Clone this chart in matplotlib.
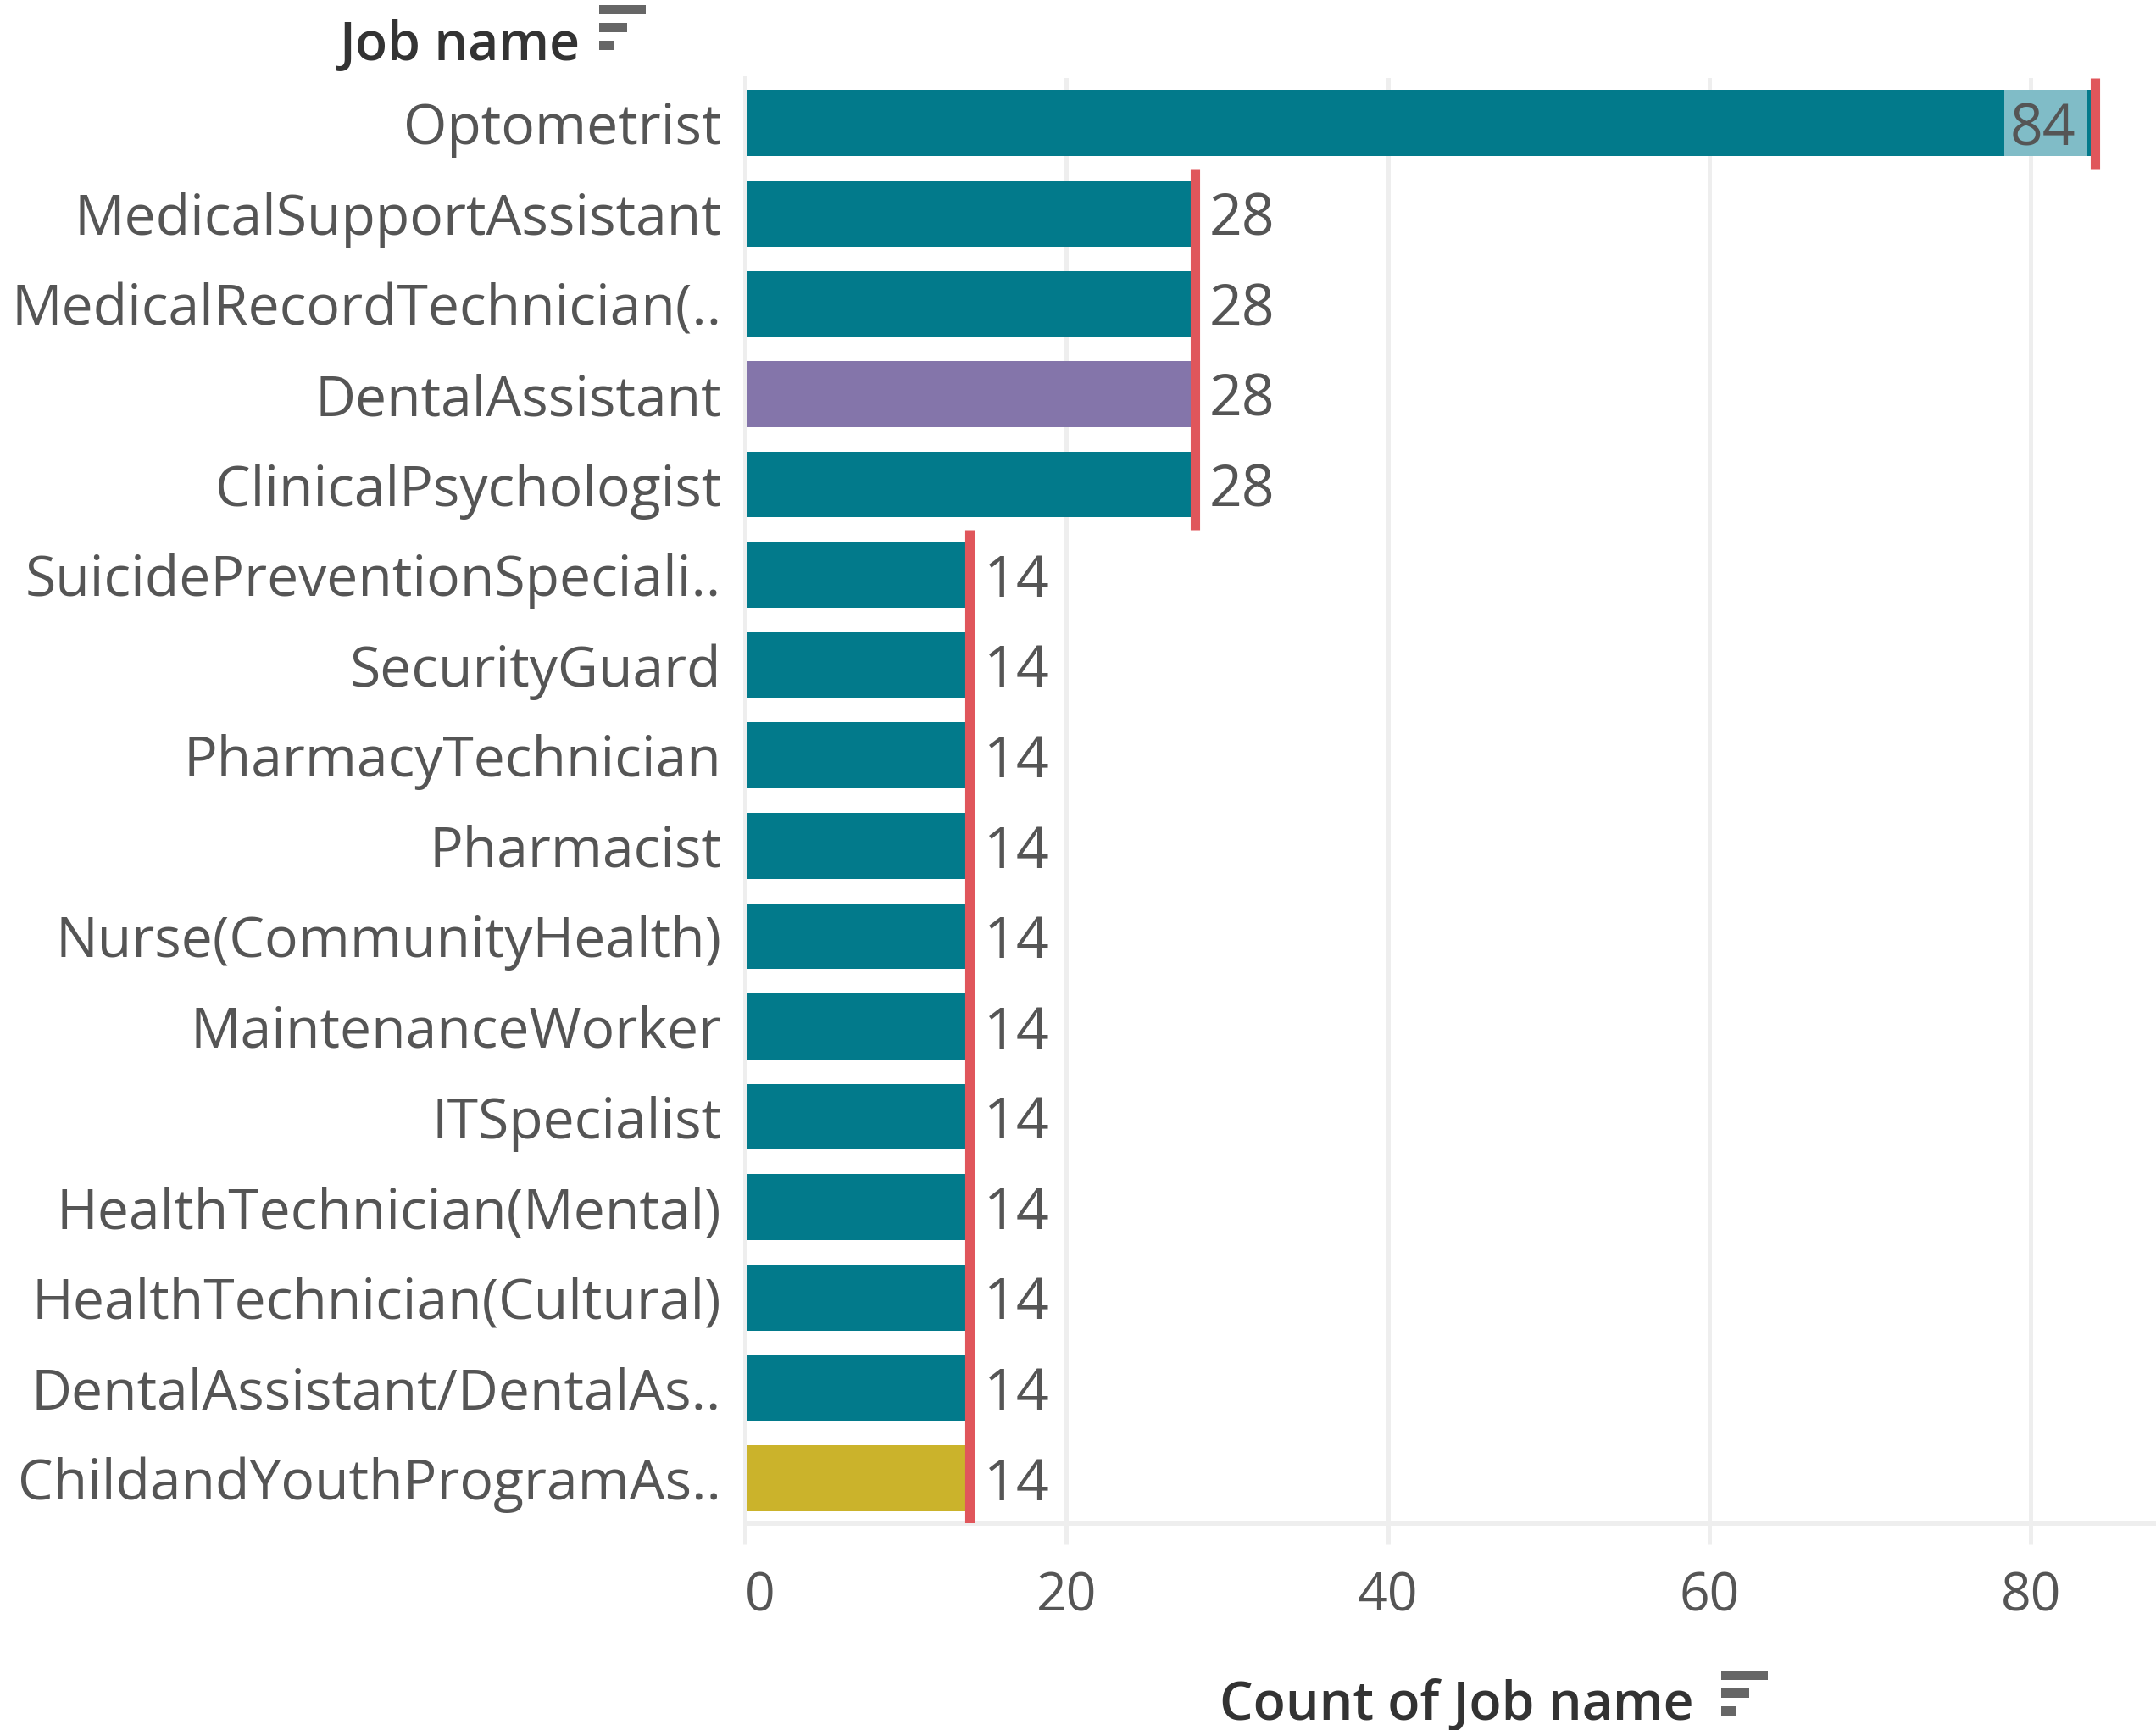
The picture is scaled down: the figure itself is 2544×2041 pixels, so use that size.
import matplotlib.pyplot as plt
from matplotlib.patches import Rectangle

jobs = ["Optometrist", "MedicalSupportAssistant", "MedicalRecordTechnician(..",
        "DentalAssistant", "ClinicalPsychologist", "SuicidePreventionSpeciali..",
        "SecurityGuard", "PharmacyTechnician", "Pharmacist",
        "Nurse(CommunityHealth)", "MaintenanceWorker", "ITSpecialist",
        "HealthTechnician(Mental)", "HealthTechnician(Cultural)",
        "DentalAssistant/DentalAs..", "ChildandYouthProgramAs.."]
counts = [84, 28, 28, 28, 28, 14, 14, 14, 14, 14, 14, 14, 14, 14, 14, 14]
highlight = {"DentalAssistant": "#8475aa", "ChildandYouthProgramAs..": "#cbb32b"}
x_ticks = [0, 20, 40, 60, 80]

TEAL = "#027a8b"
LIGHT_TEAL = "#80bcc7"
RED = "#e0565b"
GRID = "#eeeeee"
TXT = "#555555"
FONT = ["Open Sans", "DejaVu Sans"]

plt.rcParams["font.family"] = FONT

fig = plt.figure(figsize=(12.72, 10.205), dpi=200)
ax = fig.add_axes([0.3455, 0.1195, 0.6545, 0.8354])

ypos = list(range(len(jobs)))
colors = [highlight.get(j, TEAL) for j in jobs]
ax.barh(ypos, counts, height=0.73, color=colors, zorder=2)

# reference lines spanning rows that share a value
groups = []
for i, c in enumerate(counts):
    if groups and groups[-1][0] == c:
        groups[-1][2] = i
    else:
        groups.append([c, i, i])
for val, i0, i1 in groups:
    ax.plot([val, val], [i0 - 0.5, i1 + 0.5], color=RED, lw=4.0,
            solid_capstyle="butt", zorder=4)

ax.set_xlim(0, 87.8)
ax.set_ylim(len(jobs) - 0.5, -0.5)

# value labels
top = max(counts)
for i, c in enumerate(counts):
    if c == top:
        t = ax.annotate(str(c), (c, i), xytext=(-8, 0), textcoords="offset points",
                        ha="right", va="center_baseline", fontsize=24.5, color=TXT, zorder=5)
        fig.canvas.draw()
        bb = t.get_window_extent().transformed(ax.transData.inverted())
        ax.add_patch(Rectangle((bb.x0 - 0.4, i - 0.365), c - 0.45 - (bb.x0 - 0.4), 0.73,
                               color=LIGHT_TEAL, lw=0, zorder=3))
    else:
        ax.annotate(str(c), (c, i), xytext=(6, 0), textcoords="offset points",
                    ha="left", va="center_baseline", fontsize=24.5, color=TXT, zorder=5)

ax.set_yticks(ypos)
ax.set_yticklabels(jobs, fontsize=23.8, color=TXT)
ax.tick_params(axis="y", length=0, pad=10)

ax.set_xticks(x_ticks)
ax.set_xticklabels([str(v) for v in x_ticks], fontsize=22.5, color=TXT)
ax.get_xticklabels()[0].set_ha("left")
ax.tick_params(axis="x", length=9, width=1.8, color=GRID, pad=11)
ax.grid(axis="x", color=GRID, lw=1.8, zorder=0)

for s in ["top", "right"]:
    ax.spines[s].set_visible(False)
for s in ["left", "bottom"]:
    ax.spines[s].set_color(GRID)
    ax.spines[s].set_linewidth(1.8)


def sort_icon(x, y):
    # three stacked bars of decreasing length, in figure pixels
    W, H = 2544, 2041
    for k, w in enumerate([55, 33, 17]):
        fig.patches.append(Rectangle((x / W, 1 - (y + 10 + k * 21) / H), w / W, 11 / H,
                                     transform=fig.transFigure, color="#666666", lw=0))


fig.text(685 / 2544, 1 - 54 / 2041, "Job name", ha="right", va="center",
         fontsize=22.5, color="#333333", fontweight="semibold")
sort_icon(707, 7)

fig.text(1999 / 2544, 1 - 2013 / 2041, "Count of Job name", ha="right", va="center",
         fontsize=22.5, color="#333333", fontweight="semibold")
sort_icon(2031, 1972)

fig.savefig("out.png", dpi=200, facecolor="white")
